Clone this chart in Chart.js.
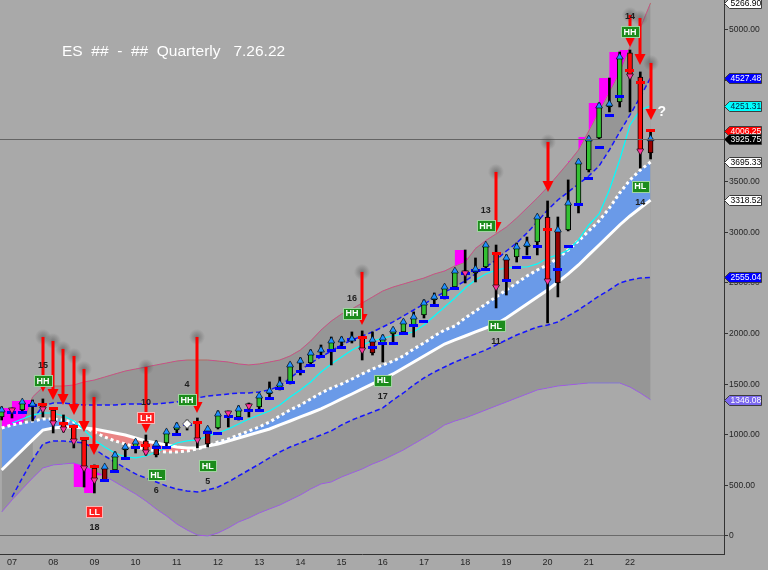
<!DOCTYPE html>
<html>
<head>
<meta charset="utf-8">
<title>ES Quarterly</title>
<script src="https://cdn.jsdelivr.net/npm/chart.js@4.4.1/dist/chart.umd.min.js"></script>
<style>
  html, body { margin: 0; padding: 0; background: #a9a9a9; overflow: hidden; }
  canvas { display: block; }
</style>
</head>
<body>
<canvas id="chart" width="768" height="570"></canvas>
<script>
// quarters on the chart, yy + quarter
const quarters = ['06Q4',
  '07Q1','07Q2','07Q3','07Q4','08Q1','08Q2','08Q3','08Q4','09Q1','09Q2','09Q3','09Q4',
  '10Q1','10Q2','10Q3','10Q4','11Q1','11Q2','11Q3','11Q4','12Q1','12Q2','12Q3','12Q4',
  '13Q1','13Q2','13Q3','13Q4','14Q1','14Q2','14Q3','14Q4','15Q1','15Q2','15Q3','15Q4',
  '16Q1','16Q2','16Q3','16Q4','17Q1','17Q2','17Q3','17Q4','18Q1','18Q2','18Q3','18Q4',
  '19Q1','19Q2','19Q3','19Q4','20Q1','20Q2','20Q3','20Q4','21Q1','21Q2','21Q3','21Q4',
  '22Q1','22Q2','22Q3'];

// back-adjusted ES quarterly bars
const open = [1176,
  1255,1245,1290,1295, 1245,1107,1077,949, 672,553,652,850, 879,939,800,919,
  1047,1097,1117,909, 1067,1225,1176,1295, 1275,1403,1462,1512, 1709,1709,1818,1818,
  1917,1937,1966,1808, 1907,1996,2016,2085, 2184,2332,2362,2460, 2618,2599,2658,2796,
  2530,2757,2856,2905, 3152,2500,3024,3280, 3616,3933,4239,4288, 4773,4535,3784];
const high = [1275,
  1265,1334,1344,1354, 1265,1196,1097,959, 702,692,830,899, 949,998,939,1047,
  1117,1146,1166,1077, 1235,1235,1285,1314, 1403,1522,1571,1709, 1759,1838,1887,1966,
  1966,2016,2026,2016, 1986,2055,2134,2214, 2332,2401,2480,2628, 2826,2747,2850,2875,
  2777,2895,2954,3172, 3310,3152,3518,3705, 3943,4278,4525,4782, 4802,4585,4012];
const low = [1146,
  1166,1215,1136,1176, 1018,1028,870,484, 425,600,632,761, 820,800,781,889,
  1018,1047,870,879, 1057,1077,1146,1176, 1255,1373,1443,1502, 1591,1680,1769,1690,
  1858,1907,1739,1788, 1719,1917,1996,1966, 2154,2273,2342,2450, 2500,2510,2628,2253,
  2381,2707,2777,2777, 2105,2362,3014,3192, 3597,3923,4190,4239, 4190,3636,3725];
const close = [1245,
  1245,1324,1304,1255, 1117,1057,939,672, 553,682,800,879, 929,830,909,1028,
  1087,1107,949,1057, 1205,1215,1255,1285, 1383,1433,1502,1690, 1729,1808,1838,1927,
  1937,1947,1838,1937, 1956,2035,2115,2164, 2302,2362,2460,2618, 2599,2638,2875,2460,
  2747,2856,2885,3152, 2520,3024,3290,3695, 3923,4249,4269,4733, 4545,3804,3925.75];

// outer envelope
const upperBand = [1067,
  1097,1097,1373,1472, 1482,1482,1492,1522, 1541,1571,1601,1630, 1650,1670,1690,1709,
  1729,1739,1739,1739, 1729,1719,1700,1690, 1700,1719,1739,1779, 1838,1927,2035,2124,
  2194,2243,2302,2362, 2421,2460,2490,2520, 2549,2589,2618,2668, 2707,2840,2920,2985,
  3053,3142,3241,3340, 3448,3567,3686,3814, 4002,4199,4387,4585, 4832,5020,5266.90];
const lowerBand = [237,
  356,464,573,672, 702,711,721,692, 642,593,534,474, 415,346,267,198,
  119,59,10,0, 30,79,138,178, 227,267,306,356, 405,464,514,534,
  583,623,662,711, 751,800,850,909, 968,1028,1097,1136, 1166,1205,1245,1285,
  1324,1364,1403,1443, 1462,1482,1492,1502, 1512,1512,1512,1512, 1472,1413,1346.08];

// inner channel (dashed blue)
const upperChannel = [null,
  null,null,1146,1285, 1314,1314,1304,1294, 1294,1294,1294,1304, 1304,1304,1304,1314,
  1324,1344,1364,1383, 1393,1403,1413,1413, 1423,1443,1482,1561, 1640,1709,1769,1828,
  1887,1937,1976,2016, 2065,2115,2174,2233, 2292,2352,2411,2460, 2520,2589,2658,2727,
  2816,2895,2994,3103, 3221,3320,3399,3478, 3557,3656,3814,3992, 4160,4338,4527.48];
const lowerChannel = [null,
  385,573,751,909, 939,939,929,919, 860,790,731,672, 613,573,534,494,
  464,445,435,455, 484,534,593,652, 711,771,830,879, 919,958,998,1038,
  1097,1146,1186,1225, 1265,1344,1413,1492, 1561,1620,1670,1719, 1759,1798,1838,1887,
  1937,1986,2026,2065, 2085,2115,2174,2233, 2302,2371,2431,2500, 2530,2549,2555.04];

// cyan trigger line
const trigger = [null,
  1117,1156,1196,1215, 1215,1186,1136,1047, 949,879,820,781, 771,790,830,870,
  919,939,949,988, 1018,1057,1107,1156, 1196,1235,1294,1373, 1443,1522,1620,1700,
  1769,1838,1887,1927, 1956,1976,1996,2016, 2085,2174,2263,2352, 2450,2530,2589,2628,
  2648,2658,2658,2688, 2747,2777,2826,2925, 3073,3182,3419,3715, 4061,4209,4251.31];

// fast (dotted) and slow (solid) averages
const fastAvg = [1067,
  1097,1117,1136,1156, 1156,1146,1126,1077, 1028,978,939,909, 879,860,840,830,
  830,840,860,889, 929,958,998,1038, 1077,1126,1186,1245, 1294,1354,1413,1462,
  1502,1551,1601,1650, 1690,1729,1779,1848, 1907,1976,2035,2075, 2154,2223,2292,2362,
  2431,2500,2569,2628, 2678,2747,2826,2915, 3014,3113,3241,3389, 3518,3616,3695.33];
const slowAvg = [652,
  751,850,949,1047, 1067,1077,1077,1067, 1057,1038,1018,998, 968,939,919,899,
  879,870,870,889, 909,939,968,998, 1028,1057,1097,1136, 1176,1215,1255,1304,
  1354,1403,1453,1502, 1551,1601,1660,1719, 1779,1838,1897,1937, 1976,2016,2055,2095,
  2154,2223,2292,2362, 2431,2510,2589,2678, 2777,2875,2974,3073, 3162,3241,3318.52];

// blue stop dashes and red levels
const stopLevel = [null,
  1225,1225,1285,null, null,null,null,null, null,553,642,761, 870,null,870,879,
  998,1097,null,1018, 1008,1176,1156,1235, 1235,1354,1453,1512, 1630,1680,1769,1828,
  1867,1937,null,1858, 1897,1897,1996,2075, 2124,2273,2352,2441, 2589,2628,2638,null,
  2520,2648,2747,2856, null,2638,2856,3280, 3537,3834,4150,4338, null,null,null];
const redLevel = [null,
  null,null,null,1295, 1255,1107,1077,959, 682,null,null,null, null,899,null,null,
  null,null,1117,null, null,null,null,null, null,null,null,null, null,null,null,null,
  null,null,1966,null, null,null,null,null, null,null,null,null, null,null,null,2796,
  null,null,null,null, 3033,null,null,null, null,null,null,null, 4595,4476,4006.25];

// sell arrows
const arrowQ = ['07Q4','08Q1','08Q2','08Q3','08Q4','09Q1','10Q2','11Q3','15Q3','18Q4','20Q1','22Q1','22Q2','22Q3'];
const arrowFrom = [1966,1927,1848,1779,1650,1373,1670,1966,2609,3597,3893,5148,5118,4674];
const arrowTo = [1423,1344,1294,1196,1028,800,1018,1215,2085,2994,3399,4832,4654,4111];

// swing labels
const swingQ = ['07Q4','09Q1','10Q2','10Q3','11Q2','11Q4','15Q2','16Q1','18Q3','18Q4','22Q1','22Q2'];
const swingTag = ['HH','LL','LH','HL','HH','HL','HH','HL','HH','HL','HH','HL'];
const swingCount = ['15','18','10','6','4','5','16','17','13','11','14','14'];
const swingLevel = [1532,237,1166,603,1344,692,2203,1541,3063,2075,4980,3458];
const diamondQ = ['11Q2'];

const yTicks = [0,500,1000,1500,2000,2500,3000,3500,4000,4500,5000];
const yearTicks = [2007,2008,2009,2010,2011,2012,2013,2014,2015,2016,2017,2018,2019,2020,2021,2022];

const xOf = q => 2000 + Number(q.slice(0, 2)) + (Number(q[3]) - 1) / 4;
const xs = quarters.map(xOf);
const pts = arr => arr.map((v, i) => ({ x: xs[i], y: v }));
const last = arr => arr[arr.length - 1];

const signalSet = new Set(arrowQ);
const isUp = close.map((c, i) => c >= open[i]);
const bodyColor = quarters.map((q, i) => {
  if (!isUp[i]) return '#ff0a0a';
  if (i > 0 && signalSet.has(quarters[i - 1])) return '#990000';
  return '#33c033';
});

function swatch(w, h, color) {
  const c = document.createElement('canvas');
  c.width = w;
  c.height = h;
  const g = c.getContext('2d');
  g.fillStyle = color;
  g.fillRect(0, 0, w, h);
  return c;
}
const blueDash = swatch(9, 3, '#0000ff');
const redDash = swatch(9, 3, '#ff0000');

const line = (data, extra) => Object.assign({
  type: 'line', data: pts(data), pointRadius: 0, borderWidth: 1, fill: false
}, extra);

const datasets = [
  line(upperBand, { borderColor: '#b46a64', backgroundColor: '#969696', fill: 1, order: 100 }),       // 0
  line(lowerBand, { borderColor: '#8476d6', order: 99 }),                                             // 1
  line(upperChannel, { borderColor: '#1414ff', borderWidth: 1.5, borderDash: [5, 3],
    backgroundColor: '#a9a9a9', fill: 3, order: 98 }),                                                // 2
  line(lowerChannel, { borderColor: '#1414ff', borderWidth: 1.5, borderDash: [5, 3], order: 97 }),   // 3
  line(high, { stepped: 'after', borderWidth: 0, borderColor: 'rgba(0,0,0,0)',
    fill: { target: 0, above: '#ff00ff', below: 'rgba(0,0,0,0)' }, order: 96 }),                     // 4
  line(low, { stepped: 'after', borderWidth: 0, borderColor: 'rgba(0,0,0,0)',
    fill: { target: 1, above: 'rgba(0,0,0,0)', below: '#ff00ff' }, order: 95 }),                     // 5
  line(fastAvg, { borderColor: '#ffffff', borderWidth: 3, borderDash: [3, 3],
    fill: { target: 7, above: '#6a9ae8', below: '#ea8585' }, order: 94 }),                            // 6
  line(slowAvg, { borderColor: '#ffffff', borderWidth: 3, order: 93 }),                               // 7
  line(trigger, { borderColor: '#00ffff', borderWidth: 1.2, order: 92 }),                             // 8
  { type: 'bar', data: quarters.map((q, i) => ({ x: xs[i], y: [low[i], high[i]] })),
    backgroundColor: '#000000', barThickness: 2, grouped: false, order: 50 },
  { type: 'bar', data: quarters.map((q, i) => ({ x: xs[i], y: [open[i], close[i]] })),
    backgroundColor: bodyColor, borderColor: '#000000', borderWidth: 1, borderSkipped: false,
    barThickness: 5, minBarLength: 2, grouped: false, order: 49 },
  { type: 'line', data: pts(stopLevel), showLine: false, pointRadius: 3, pointStyle: blueDash, order: 48 },
  { type: 'line', data: pts(redLevel), showLine: false, pointRadius: 3, pointStyle: redDash, order: 47 },
  { type: 'line', data: pts(close.map((c, i) => diamondQ.includes(quarters[i]) ? null : c)), showLine: false,
    pointStyle: 'triangle', pointRadius: 4, pointBorderColor: '#000', pointBorderWidth: 0.6,
    pointBackgroundColor: isUp.map(u => u ? '#1e90ff' : '#ff3399'),
    pointRotation: isUp.map(u => u ? 0 : 180), order: 46 },
  { type: 'line', data: pts(close.map((c, i) => diamondQ.includes(quarters[i]) ? c : null)), showLine: false,
    pointStyle: 'rectRot', pointRadius: 4.5, pointBackgroundColor: '#ffffff', pointBorderColor: '#555',
    pointBorderWidth: 1, order: 45 }
];

const overlay = {
  id: 'overlay',
  afterDatasetsDraw(chart) {
    const { ctx, chartArea: area, scales: { x, y } } = chart;
    ctx.save();

    // last price line
    const ly = Math.round(y.getPixelForValue(last(close))) + 0.5;
    ctx.strokeStyle = '#646464';
    ctx.lineWidth = 1;
    ctx.beginPath();
    ctx.moveTo(area.left, ly);
    ctx.lineTo(area.right, ly);
    ctx.stroke();

    // sell arrows
    arrowQ.forEach((q, k) => {
      const ax = Math.round(x.getPixelForValue(xOf(q)));
      const y1 = y.getPixelForValue(arrowFrom[k]);
      const y2 = y.getPixelForValue(arrowTo[k]);
      const glow = ctx.createRadialGradient(ax, y1, 0, ax, y1, 8);
      glow.addColorStop(0, 'rgba(60,60,60,0.45)');
      glow.addColorStop(1, 'rgba(60,60,60,0)');
      ctx.fillStyle = glow;
      ctx.fillRect(ax - 8, y1 - 8, 16, 16);
      ctx.fillStyle = '#ff0000';
      ctx.fillRect(ax - 1.5, y1, 3, y2 - y1 - 10);
      ctx.beginPath();
      ctx.moveTo(ax - 5.5, y2 - 11);
      ctx.lineTo(ax + 5.5, y2 - 11);
      ctx.lineTo(ax, y2);
      ctx.closePath();
      ctx.fill();
    });

    // swing labels
    ctx.textAlign = 'center';
    ctx.textBaseline = 'middle';
    swingQ.forEach((q, k) => {
      const px = x.getPixelForValue(xOf(q));
      const py = y.getPixelForValue(swingLevel[k]);
      const tag = swingTag[k];
      ctx.font = 'bold 9px Arial';
      const w = Math.round(ctx.measureText(tag).width) + 5;
      const h = 11;
      const bx = Math.round(px - w / 2) + 0.5, by = Math.round(py - h / 2) + 0.5;
      ctx.fillStyle = tag[0] === 'H' ? '#1c8c1c' : '#ff2020';
      ctx.fillRect(bx, by, w, h);
      ctx.strokeStyle = tag[0] === 'H' ? '#9fd49f' : '#ffb4b4';
      ctx.strokeRect(bx, by, w, h);
      ctx.fillStyle = '#ffffff';
      ctx.fillText(tag, px, py + 0.5);
      ctx.fillStyle = '#1e1e1e';
      ctx.fillText(swingCount[k], px, tag[1] === 'H' ? py - 15 : py + 16);
    });

    // question mark after the last arrow
    ctx.fillStyle = '#ffffff';
    ctx.font = 'bold 14px Arial';
    ctx.textAlign = 'left';
    ctx.fillText('?', x.getPixelForValue(xOf(last(arrowQ))) + 7, y.getPixelForValue(last(arrowTo)) - 8);
    ctx.restore();
  },
  afterDraw(chart) {
    const { ctx, chartArea: area, scales: { y } } = chart;
    ctx.save();
    const tags = [
      [last(upperBand), '#ffffff', '#000000'],
      [last(upperChannel), '#0000ff', '#ffffff'],
      [last(trigger), '#00ffff', '#002040'],
      [last(redLevel), '#ff0000', '#ffffff'],
      [last(close), '#000000', '#ffffff'],
      [last(fastAvg), '#ffffff', '#000000'],
      [last(slowAvg), '#ffffff', '#000000'],
      [last(lowerChannel), '#0000ff', '#ffffff'],
      [last(lowerBand), '#7b68ee', '#ffffff']
    ];
    ctx.font = '8.5px Arial';
    ctx.textBaseline = 'middle';
    ctx.textAlign = 'left';
    tags.forEach(([v, bg, fg]) => {
      const ty = Math.round(y.getPixelForValue(v)) + 0.5;
      const ax = area.right + 0.5;
      ctx.beginPath();
      ctx.moveTo(ax, ty);
      ctx.lineTo(ax + 5, ty - 5);
      ctx.lineTo(ax + 37, ty - 5);
      ctx.lineTo(ax + 37, ty + 5);
      ctx.lineTo(ax + 5, ty + 5);
      ctx.closePath();
      ctx.fillStyle = bg;
      ctx.fill();
      ctx.strokeStyle = '#3c3c3c';
      ctx.lineWidth = 1;
      ctx.stroke();
      ctx.fillStyle = fg;
      ctx.fillText(v.toFixed(2), ax + 6, ty + 0.5);
    });

    ctx.fillStyle = '#ffffff';
    ctx.font = '15.5px Arial';
    ctx.fillText('ES  ##  -  ##  Quarterly   7.26.22', 62, 52);
    ctx.restore();
  }
};

new Chart(document.getElementById('chart'), {
  type: 'line',
  data: { datasets },
  options: {
    responsive: false,
    animation: false,
    events: [],
    layout: { padding: 0, autoPadding: false },
    plugins: { legend: { display: false }, tooltip: { enabled: false } },
    scales: {
      x: {
        type: 'linear',
        min: 2006.709,
        max: 2024.282,
        offset: false,
        afterBuildTicks: s => { s.ticks = yearTicks.map(v => ({ value: v })); },
        afterFit: s => { s.height = 16; s.paddingLeft = 0; s.paddingRight = 0; },
        ticks: {
          callback: v => String(v).slice(2),
          color: '#262626',
          font: { family: 'Arial', size: 9 },
          padding: 3,
          maxRotation: 0,
          autoSkip: false
        },
        grid: { display: false, drawTicks: false },
        border: { display: true, color: '#333333' }
      },
      y: {
        position: 'right',
        min: -178,
        max: 5296,
        afterBuildTicks: s => { s.ticks = yTicks.map(v => ({ value: v })); },
        afterFit: s => { s.width = 44; s.paddingTop = 0; s.paddingBottom = 0; },
        ticks: {
          callback: v => v === 0 ? '0' : v.toFixed(2),
          color: '#262626',
          font: { family: 'Arial', size: 8.5 },
          padding: 1
        },
        grid: {
          color: c => (c.tick && c.tick.value === 0) ? '#6a6a6a' : 'rgba(0,0,0,0)',
          tickColor: '#333333',
          tickLength: 4
        },
        border: { display: true, color: '#333333' }
      }
    }
  },
  plugins: [overlay]
});
</script>
</body>
</html>
